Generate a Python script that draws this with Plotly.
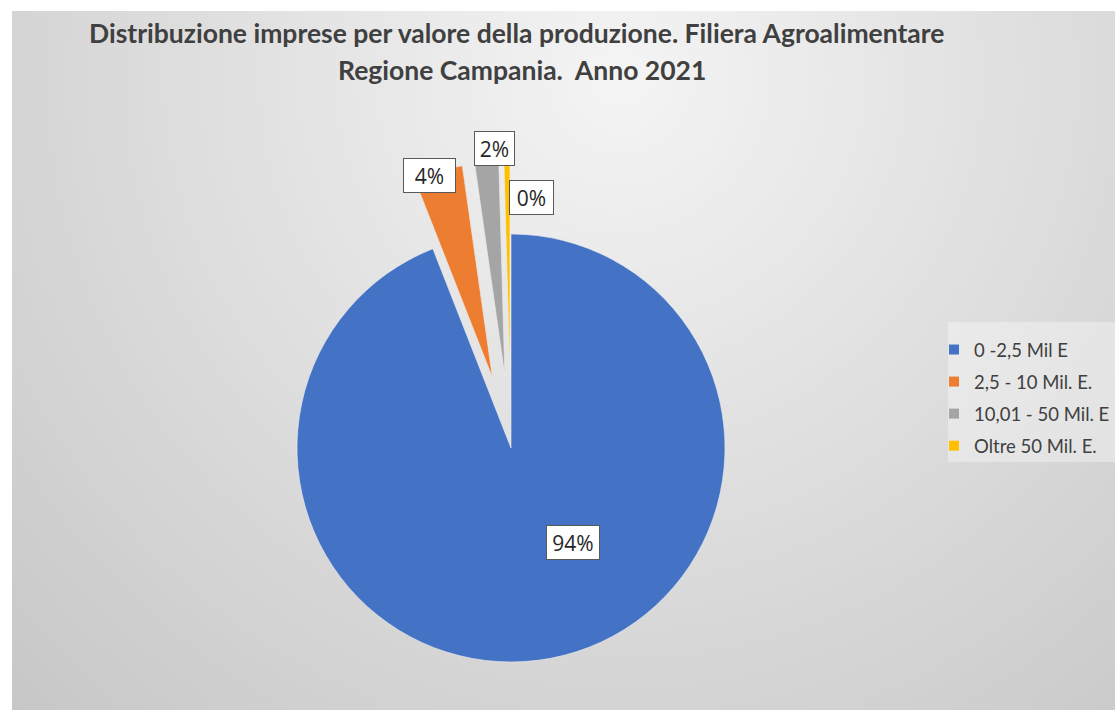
import math, zlib, struct, base64
import plotly.graph_objects as go

# ---------------- data ----------------
categories = ["0 -2,5 Mil E", "2,5 - 10 Mil. E.", "10,01 - 50 Mil. E", "Oltre 50 Mil. E."]
values = [94.05, 3.7, 1.8, 0.45]
pulls = [0.0, 0.34, 0.34, 0.34]
title_line1 = "Distribuzione imprese per valore della produzione. Filiera Agroalimentare"
title_line2 = "Regione Campania.  Anno 2021"

# ---------------- style ----------------
colors = ["#4472C4", "#ED7D31", "#A5A5A5", "#FFC000"]
W, H = 1115, 710
CX, CY, R = 511, 448, 214          # pie centre / radius in pixels
label_pos = [(573, 542.5), (429.5, 175.5), (494.5, 148.5), (531.7, 197.5)]
label_w = [54, 53, 41, 45]
TXT = "#404040"


def gradient_png(iw, ih):
    raw = bytearray()
    for y in range(ih):
        raw.append(0)
        for x in range(iw):
            px = 12 + (x + 0.5) * (W - 12) / iw
            py = 11 + (y + 0.5) * (H - 11) / ih
            d = math.hypot(px - 620, py - 80)
            v = int(max(0, min(255, 245 - 0.052 * d)))
            raw += bytes([v, v, v])

    def chunk(t, d):
        c = struct.pack(">I", len(d)) + t + d
        return c + struct.pack(">I", zlib.crc32(t + d) & 0xFFFFFFFF)

    png = (b"\x89PNG\r\n\x1a\n"
           + chunk(b"IHDR", struct.pack(">IIBBBBB", iw, ih, 8, 2, 0, 0, 0))
           + chunk(b"IDAT", zlib.compress(bytes(raw)))
           + chunk(b"IEND", b""))
    return "data:image/png;base64," + base64.b64encode(png).decode()


fig = go.Figure()

total = sum(values)
cum = 0.0
for i, v in enumerate(values):
    start = cum / total * 360.0
    cum += v
    end = cum / total * 360.0
    mid = math.radians((start + end) / 2)   # clockwise from 12 o'clock
    off = R * pulls[i]
    cx = CX + off * math.sin(mid)
    cy = CY - off * math.cos(mid)
    cols = [colors[j] if j == i else "rgba(0,0,0,0)" for j in range(len(values))]
    lw = [0.6 if j == i else 0 for j in range(len(values))]
    fig.add_trace(go.Pie(
        values=values, labels=categories, sort=False, direction="clockwise",
        rotation=0, textinfo="none", showlegend=False,
        marker=dict(colors=cols, line=dict(color="#eeeeee", width=lw)),
        domain=dict(x=[(cx - R) / W, (cx + R) / W],
                    y=[1 - (cy + R) / H, 1 - (cy - R) / H]),
        hoverinfo="label+percent",
    ))

# legend entries
for i, c in enumerate(categories):
    fig.add_trace(go.Scatter(
        x=[None], y=[None], mode="markers", name=c, legendgroup=str(i),
        marker=dict(symbol="square", size=10, color=colors[i]),
    ))

annotations = []
for i, v in enumerate(values):
    px, py = label_pos[i]
    annotations.append(dict(
        text=f"{round(v / total * 100)}%", x=px / W, y=1 - py / H,
        xref="paper", yref="paper", xanchor="center", yanchor="middle",
        showarrow=False, bgcolor="white", bordercolor="#595959", borderwidth=1,
        borderpad=0, width=label_w[i] - 2, height=33,
        font=dict(family="Open Sans", size=21, color="#262626"),
    ))
annotations.append(dict(text=f"<b>{title_line1}</b>", x=516 / W, y=1 - 33 / H,
                        xref="paper", yref="paper", xanchor="center", yanchor="middle",
                        showarrow=False, font=dict(family="Lato", size=26.5, color=TXT)))
annotations.append(dict(text=f"<b>{title_line2}</b>", x=522 / W, y=1 - 70 / H,
                        xref="paper", yref="paper", xanchor="center", yanchor="middle",
                        showarrow=False, font=dict(family="Lato", size=26.5, color=TXT)))

fig.update_layout(
    width=W, height=H,
    margin=dict(l=0, r=0, t=0, b=0),
    paper_bgcolor="white", plot_bgcolor="rgba(0,0,0,0)",
    xaxis=dict(visible=False), yaxis=dict(visible=False),
    images=[dict(source=gradient_png(138, 88), xref="paper", yref="paper",
                 x=12 / W, y=1 - 11 / H, sizex=(W - 12) / W, sizey=(H - 11) / H,
                 xanchor="left", yanchor="top", sizing="stretch", layer="below")],
    shapes=[dict(type="rect", xref="paper", yref="paper",
                 x0=948 / W, x1=1, y0=1 - 462 / H, y1=1 - 322 / H,
                 fillcolor="rgba(255,255,255,0.35)", line=dict(width=0), layer="below")],
    annotations=annotations,
    legend=dict(x=934 / W, y=1 - 331 / H, xanchor="left", yanchor="top",
                bgcolor="rgba(0,0,0,0)", tracegroupgap=5, traceorder="grouped",
                font=dict(family="Lato", size=18.5, color=TXT)),
)

fig.write_html("out.html")
